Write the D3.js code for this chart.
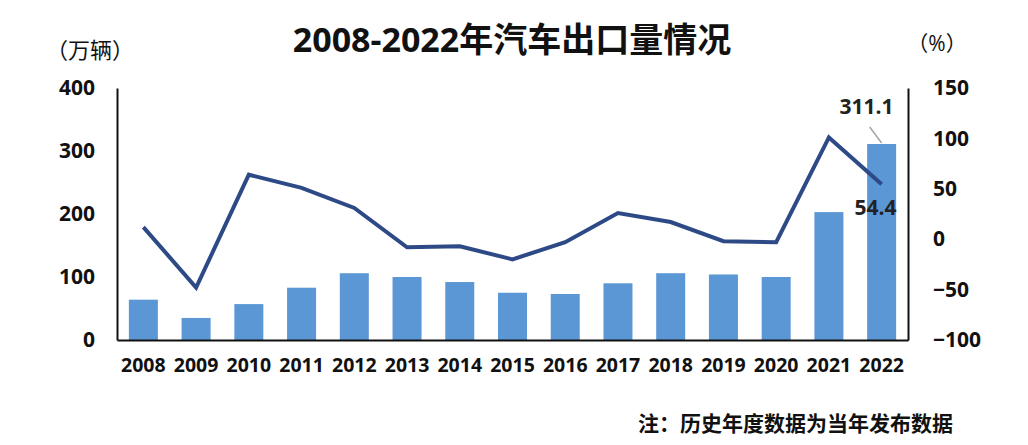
<!DOCTYPE html>
<html><head><meta charset="utf-8">
<script src="https://cdn.jsdelivr.net/npm/d3@7"></script>
<style>body{margin:0;background:#fff;}svg{display:block;}</style>
</head><body>
<script>
const years = ["2008","2009","2010","2011","2012","2013","2014","2015","2016","2017","2018","2019","2020","2021","2022"];
const exports = [64, 35, 57, 83, 106, 100, 92, 75, 73, 90, 106, 104, 100, 203, 311.1];
const growth = [12, -48, 64, 51, 31, -8, -7, -20, -3, 26, 17, -2, -3, 101, 54.4];
const leftTicks = [0, 100, 200, 300, 400];
const rightTicks = [-100, -50, 0, 50, 100, 150];

const W = 1028, H = 445;
const m = {left: 117, right: 1028-908, top: 88, bottom: 445-340};
const svg = d3.select("body").append("svg").attr("width", W).attr("height", H);
const font = "'Open Sans','Noto Sans CJK SC',sans-serif";

const x = d3.scaleBand().domain(years).range([m.left, W-m.right]).paddingInner(0.45).paddingOuter(0.225);
const yL = d3.scaleLinear().domain([0, 400]).range([H-m.bottom, m.top]);
const yR = d3.scaleLinear().domain([-100, 150]).range([H-m.bottom, m.top]);

// bars
svg.append("g").selectAll("rect").data(exports).join("rect")
  .attr("x", (d,i)=>x(years[i])).attr("width", x.bandwidth())
  .attr("y", d=>yL(d)).attr("height", d=>yL(0)-yL(d)).attr("fill", "#5b97d5");

// line
const line = d3.line().x((d,i)=>x(years[i])+x.bandwidth()/2).y(d=>yR(d));
svg.append("path").datum(growth).attr("d", line).attr("fill","none")
  .attr("stroke","#2e4a86").attr("stroke-width",4).attr("stroke-linejoin","miter");

// axes
const axL = svg.append("g").attr("transform",`translate(${m.left},0)`)
  .call(d3.axisLeft(yL).tickValues(leftTicks).tickSize(0).tickPadding(22));
const axR = svg.append("g").attr("transform",`translate(${W-m.right},0)`)
  .call(d3.axisRight(yR).tickValues(rightTicks).tickSize(0).tickPadding(25));
const axB = svg.append("g").attr("transform",`translate(0,${H-m.bottom})`)
  .call(d3.axisBottom(x).tickSize(0).tickPadding(18));
[axL, axR, axB].forEach(a=>{
  a.select(".domain").attr("stroke","#111").attr("stroke-width",2);
  a.selectAll("text").attr("font-family",font).attr("font-weight",700).attr("font-size",21).attr("fill","#111");
});
axB.selectAll("text").attr("font-size",19.5);

// titles
svg.append("text").attr("x",512).attr("y",52).attr("text-anchor","middle")
  .attr("font-family",font).attr("font-weight",700).attr("font-size",34).attr("fill","#111")
  .text("2008-2022年汽车出口量情况");
svg.append("text").attr("x",90).attr("y",58).attr("text-anchor","middle")
  .attr("font-family",font).attr("font-size",22).attr("fill","#111").text("（万辆）");
svg.append("text").attr("x",937).attr("y",51).attr("text-anchor","middle")
  .attr("font-family",font).attr("font-size",21).attr("fill","#111").text("（%）");
svg.append("text").attr("x",953).attr("y",431).attr("text-anchor","end")
  .attr("font-family",font).attr("font-weight",700).attr("font-size",21).attr("fill","#111")
  .text("注：历史年度数据为当年发布数据");

// annotations
const last = years.length-1;
const cx = x(years[last])+x.bandwidth()/2;
svg.append("line").attr("x1",cx-12).attr("y1",yL(exports[last])-17).attr("x2",cx).attr("y2",yL(exports[last])-1)
  .attr("stroke","#a6a6a6").attr("stroke-width",1.5);
svg.append("text").attr("x",cx+12).attr("y",yL(exports[last])-30).attr("text-anchor","end")
  .attr("font-family",font).attr("font-weight",700).attr("font-size",21).attr("fill","#222").text(exports[last].toFixed(1));
svg.append("text").attr("x",cx+15).attr("y",yR(growth[last])+31).attr("text-anchor","end")
  .attr("font-family",font).attr("font-weight",700).attr("font-size",21).attr("fill","#222").text(growth[last].toFixed(1));
</script>
</body></html>
